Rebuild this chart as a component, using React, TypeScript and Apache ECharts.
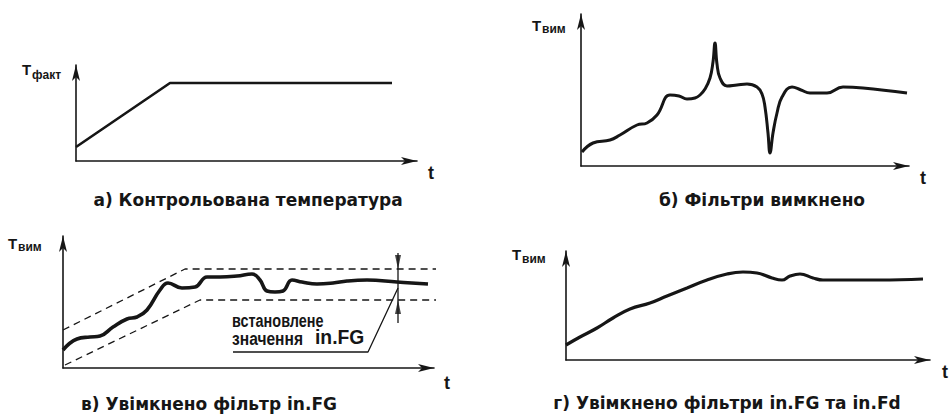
import React, { useEffect, useRef } from "react";
import * as echarts from "echarts";

// ---------- data (t, T in panel units) ----------
// а) Контрольована температура
const aTime = [0, 94, 316];
const aTemp = [14, 78, 78];

// б) Фільтри вимкнено
const bTime = [1, 12, 29, 39, 56, 66, 76, 89, 98, 106, 114, 119, 124, 129, 132, 134, 136, 139, 146, 156, 166, 176, 181, 184, 187, 189, 192, 196, 201, 211, 220, 229, 246, 262, 282, 326];
const bTemp = [14, 23, 26, 31, 41, 43, 51, 71, 70, 67, 68, 71, 77, 88, 104, 123, 102, 88, 80, 81, 82, 79, 72, 59, 33, 13, 33, 53, 69, 79, 76, 73, 73, 79, 78, 73];

// в) Увімкнено фільтр in.FG
const cTime = [0, 14, 27, 37, 50, 64, 74, 84, 97, 105, 119, 132, 144, 157, 174, 189, 197, 204, 212, 220, 229, 239, 254, 270, 284, 304, 334, 365];
const cTemp = [18, 29, 31, 32, 41, 49, 51, 58, 78, 85, 80, 81, 91, 91, 92, 94, 88, 77, 76, 77, 88, 86, 84, 85, 87, 88, 86, 84];
const cUpperTime = [0, 122, 374];
const cUpperTemp = [38, 99, 99];
const cLowerTime = [2, 137, 374];
const cLowerTemp = [3, 68, 68];
const cMarkTime = 335;
const cMarkTemp = [115, 45];
const cLeaderTime = [170, 305, 335];
const cLeaderTemp = [16, 16, 80];

// г) Увімкнено фільтри in.FG та in.Fd
const dTime = [0, 14, 31, 47, 64, 84, 101, 121, 141, 161, 177, 191, 206, 216, 224, 234, 247, 257, 281, 314, 357];
const dTemp = [15, 23, 32, 42, 51, 57, 64, 72, 80, 86, 88, 87, 82, 80, 84, 86, 82, 80, 80, 80, 81];

const captions = [
  "а) Контрольована температура",
  "б) Фільтри вимкнено",
  "в) Увімкнено фільтр in.FG",
  "г) Увімкнено фільтри in.FG та in.Fd",
];
const ySubs = ["факт", "вим", "вим", "вим"];
const noteLines = ["встановлене", "значення"];
const noteParam = "in.FG";

// ---------- layout ----------
const INK = "#161616";
const GRIDS = [
  { left: 76, top: 65, width: 341, height: 96 },
  { left: 581, top: 14, width: 328, height: 152 },
  { left: 63, top: 236, width: 371, height: 132 },
  { left: 566, top: 251, width: 364, height: 109 },
];
const ARROW = 14;

const zip = (xs: number[], ys: number[]) => xs.map((x, i) => [x, ys[i]]);

function buildOption() {
  const axisLine = {
    show: true,
    onZero: false,
    symbol: ["none", "arrow"],
    symbolSize: [6, 16],
    lineStyle: { color: INK, width: 1.6 },
  };
  const hidden = {
    axisTick: { show: false },
    axisLabel: { show: false },
    splitLine: { show: false },
  };
  const xAxis = GRIDS.map((g, i) => ({
    type: "value",
    gridIndex: i,
    min: 0,
    max: g.width,
    axisLine,
    ...hidden,
  }));
  const yAxis = GRIDS.map((g, i) => ({
    type: "value",
    gridIndex: i,
    min: 0,
    max: g.height,
    axisLine,
    ...hidden,
  }));

  const curve = (idx: number, data: number[][], width: number, smooth: number | boolean) => ({
    type: "line",
    xAxisIndex: idx,
    yAxisIndex: idx,
    data,
    smooth,
    showSymbol: false,
    symbol: "none",
    lineStyle: { color: INK, width },
    z: 5,
  });
  const thin = (idx: number, data: number[][], width: number, type: any) => ({
    type: "line",
    xAxisIndex: idx,
    yAxisIndex: idx,
    data,
    showSymbol: false,
    symbol: "none",
    lineStyle: { color: INK, width, type },
    z: 3,
  });

  const series: any[] = [
    curve(0, zip(aTime, aTemp), 2.6, false),
    curve(1, zip(bTime, bTemp), 3, 0.45),
    thin(2, zip(cUpperTime, cUpperTemp), 1.3, [7, 5]),
    thin(2, zip(cLowerTime, cLowerTemp), 1.3, [7, 5]),
    curve(2, zip(cTime, cTemp), 3.6, 0.45),
    thin(2, zip(cLeaderTime, cLeaderTemp), 1.3, "solid"),
    thin(2, cMarkTemp.map((v) => [cMarkTime, v]), 1.3, "solid"),
    {
      type: "scatter",
      xAxisIndex: 2,
      yAxisIndex: 2,
      symbol: "triangle",
      symbolSize: [6, ARROW],
      data: [
        { value: [cMarkTime, cUpperTemp[2] + ARROW / 2], symbolRotate: 180 },
        { value: [cMarkTime, cLowerTemp[2] - ARROW / 2], symbolRotate: 0 },
      ],
      itemStyle: { color: INK },
      z: 6,
    },
    curve(3, zip(dTime, dTemp), 3.2, 0.45),
  ];

  const text = (t: string, x: number, y: number, font: string, align = "center", scaleX = 1) => ({
    type: "text",
    x,
    y,
    scaleX,
    silent: true,
    style: {
      text: t,
      font,
      fill: INK,
      textAlign: align,
      textVerticalAlign: "middle",
      align,
      verticalAlign: "middle",
    },
  });

  const CAP = 'bold 17px "DejaVu Sans", "Liberation Sans", sans-serif';
  const T_FONT = 'bold 15px "Liberation Sans", Arial, sans-serif';
  const SUB_FONT = 'bold 12px "Liberation Sans", Arial, sans-serif';
  const t_FONT = 'bold 18px "Liberation Sans", Arial, sans-serif';
  const NOTE = 'bold 19px "Liberation Sans", Arial, sans-serif';
  const NOTE_B = 'bold 21px "Liberation Sans", Arial, sans-serif';

  const capPos = [
    [248, 200],
    [762, 200],
    [209, 404],
    [727, 403],
  ];
  const yLab = [
    [22, 69, 32, 75],
    [532, 25, 542, 29],
    [8, 243, 18, 247],
    [512, 254, 522, 259],
  ];
  const tPos = [
    [431, 173],
    [923, 178],
    [447, 383],
    [945, 372],
  ];

  const graphic: any[] = [];
  captions.forEach((c, i) => graphic.push(text(c, capPos[i][0], capPos[i][1], CAP)));
  ySubs.forEach((s, i) => {
    graphic.push(text("Т", yLab[i][0], yLab[i][1], T_FONT, "left"));
    graphic.push(text(s, yLab[i][2], yLab[i][3], SUB_FONT, "left"));
  });
  tPos.forEach((p) => graphic.push(text("t", p[0], p[1], t_FONT)));
  graphic.push(text(noteLines[0], 232, 321, NOTE, "left", 0.76));
  graphic.push(text(noteLines[1], 232, 338, NOTE, "left", 0.82));
  graphic.push(text(noteParam, 315, 337, NOTE_B, "left", 0.92));

  return {
    animation: false,
    backgroundColor: "#ffffff",
    grid: GRIDS.map((g) => ({ ...g, containLabel: false })),
    xAxis,
    yAxis,
    series,
    graphic,
  };
}

export default function App() {
  const ref = useRef<HTMLDivElement>(null);
  useEffect(() => {
    if (!ref.current) return;
    const chart = echarts.init(ref.current, null, { renderer: "svg" });
    chart.setOption(buildOption() as any);
    return () => chart.dispose();
  }, []);
  return (
    <div
      ref={ref}
      style={{ position: "absolute", left: 0, top: 0, width: 950, height: 414, background: "#fff" }}
    />
  );
}
